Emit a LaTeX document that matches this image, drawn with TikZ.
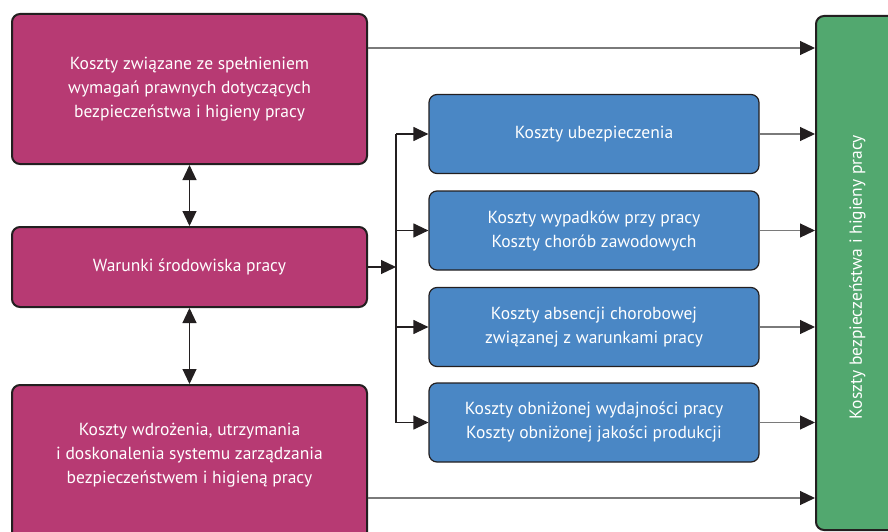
\documentclass[tikz,border=0pt]{standalone}
\usepackage{fontspec}
\setmainfont{PT Sans}
\usetikzlibrary{arrows.meta}
\definecolor{b73a73}{HTML}{B73A73}
\definecolor{4a87c5}{HTML}{4A87C5}
\definecolor{52a86f}{HTML}{52A86F}
\definecolor{231f20}{HTML}{231F20}
\definecolor{7a7a7a}{HTML}{7A7A7A}

\begin{document}
\begin{tikzpicture}[x=1pt,y=-1pt,>={Triangle[length=15pt,width=14pt,color=231f20]},
    box/.style={draw=231f20,line width=2pt,rounded corners=8pt,inner sep=0pt},
    txt/.style={text=white,align=center,font=\fontsize{17.5}{24}\selectfont},
    pinkbox/.style={box,txt,fill=b73a73,minimum width=355},
    bluebox/.style={box,txt,fill=4a87c5,line width=1.2pt,minimum width=330,minimum height=79},
    link/.style={line width=1.2pt,7a7a7a},
    split/.style={line width=1.2pt,231f20}]
\useasboundingbox(0,0)rectangle(888,532);
\clip(0,0)rectangle(888,532);
\node[pinkbox,minimum height=150](legal)at(189.5,89){Koszty związane ze spełnieniem\\wymagań prawnych dotyczących\\bezpieczeństwa i higieny pracy};
\node[pinkbox,minimum height=80](env)at(189.5,267){Warunki środowiska pracy};
\node[pinkbox,minimum height=160,anchor=north](mgmt)at(189.5,384){};
\node[txt](mgmttxt)at(189.5,455){Koszty wdrożenia, utrzymania\\i doskonalenia systemu zarządzania\\bezpieczeństwem i higieną pracy};
\node[bluebox](ins)at(594,134){Koszty ubezpieczenia};
\node[bluebox](acc)at(594,230.5){Koszty wypadków przy pracy\\Koszty chorób zawodowych};
\node[bluebox](abs)at(594,327){Koszty absencji chorobowej\\związanej z warunkami pracy};
\node[bluebox](prod)at(594,422.5){Koszty obniżonej wydajności pracy\\Koszty obniżonej jakości produkcji};
\node[box,fill=52a86f,minimum width=85,minimum height=514,anchor=north west](total)at(815,15){};
\node[txt,rotate=90](totaltxt)at([xshift=-1pt,yshift=-4pt]total.center){Koszty bezpieczeństwa i higieny pracy};
\draw[split,<->](legal.south)--(env.north);
\draw[split,<->](env.south)--(mgmt.north);
\coordinate(fork)at([xshift=28pt]env.east);
\draw[split,->](env.east)--(fork);
\draw[split](fork|-ins.west)--(fork|-prod.west);
\foreach \b in {ins,acc,abs,prod} {
        \draw[split,->](fork|-\b.west)--(\b.west);
        \draw[link,->](\b.east)--(\b.east-|total.west);
    }
\coordinate(top)at([yshift=41pt]legal.east);
\coordinate(bottom)at([yshift=-33pt]mgmt.center-|mgmt.east);
\draw[link,->](top)--(top-|total.west);
\draw[link,->](bottom)--(bottom-|total.west);
\end{tikzpicture}
\end{document}
